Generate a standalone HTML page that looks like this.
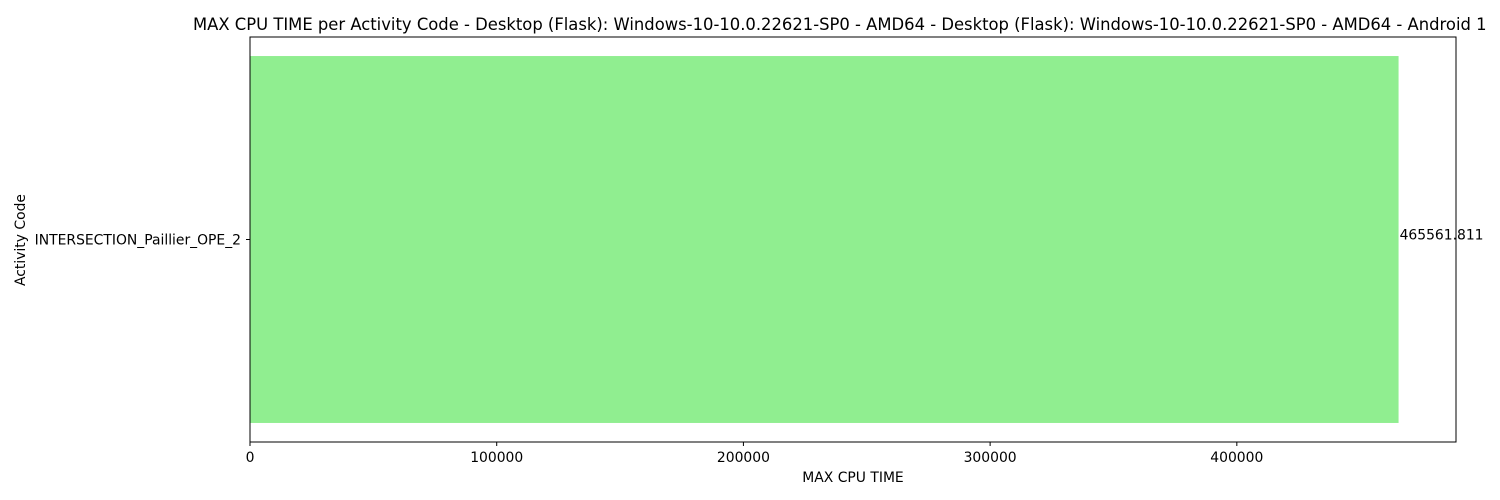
<!DOCTYPE html>
<html><head><meta charset="utf-8"><style>
body{margin:0;background:#fff;overflow:hidden;}
svg{display:block;font-family:"DejaVu Sans","Liberation Sans",sans-serif;}
</style></head><body>
<svg id="chart" width="1500" height="500"></svg>
<script>
const categories = ["INTERSECTION_Paillier_OPE_2"];
const values = [465561.811];
const valueLabels = ["465561.811"];
const xTicks = [0, 100000, 200000, 300000, 400000];
const xTickLabels = ["0", "100000", "200000", "300000", "400000"];

const svg = document.getElementById('chart');
const NS = 'http://www.w3.org/2000/svg';
const L = 250, R = 1456, T = 37, B = 442;
const xMax = Math.max(...values) * 1.05;
const x = v => L + (v / xMax) * (R - L);
const band = (B - T) / categories.length;
const y = i => T + band * i;
function mk(tag, attrs, text) {
  const e = document.createElementNS(NS, tag);
  for (const k in attrs) e.setAttribute(k, attrs[k]);
  if (text !== undefined) e.textContent = text;
  svg.appendChild(e);
  return e;
}
let t = mk('text', {x: 193, y: 30, 'font-size': 16.4, fill: '#000'}, 'MAX CPU TIME per Activity Code - Desktop (Flask): Windows-10-10.0.22621-SP0 - AMD64 - Desktop (Flask): Windows-10-10.0.22621-SP0 - AMD64 - Android 1');


categories.forEach((c, i) => {
  const r = mk('rect', {x: x(0), y: y(i) + band * 0.047, width: x(values[i]) - x(0), height: band * 0.906, fill: '#90ee90'});
  
  
  const lab = mk('text', {x: x(values[i]) + 1, y: y(i) + band / 2, 'font-size': 13.9, fill: '#000'}, valueLabels[i]);
  
  
  const cy = y(i) + band / 2;
  const tk = mk('line', {x1: L - 4, x2: L, y1: cy, y2: cy, stroke: '#000', 'stroke-width': 1});
  
  
  const tl = mk('text', {x: L - 9, y: cy + 5, 'font-size': 13.9, 'text-anchor': 'end', fill: '#000'}, c);
  
  
});
const fr = mk('rect', {x: L, y: T, width: R - L, height: B - T, fill: 'none', stroke: '#000', 'stroke-width': 1});


xTicks.forEach((v, i) => {
  const tk = mk('line', {x1: x(v), x2: x(v), y1: B, y2: B + 4, stroke: '#000'});
  
  
  const tl = mk('text', {x: x(v), y: B + 20, 'font-size': 13.9, 'text-anchor': 'middle', fill: '#000'}, xTickLabels[i]);
  
  
});
const xt = mk('text', {x: (L + R) / 2, y: 482, 'font-size': 13.9, 'text-anchor': 'middle', fill: '#000'}, 'MAX CPU TIME');


const yt = mk('text', {x: 0, y: 0, 'font-size': 13.9, 'text-anchor': 'middle', fill: '#000', transform: 'translate(25,240) rotate(-90)'}, 'Activity Code');


</script>
</body></html>
